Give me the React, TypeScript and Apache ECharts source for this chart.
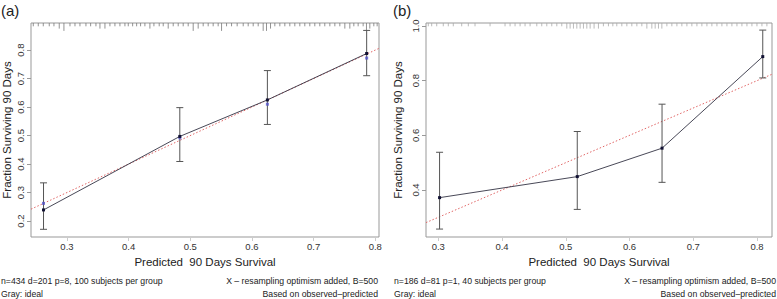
import React, { useEffect, useRef } from "react";
import * as echarts from "echarts";

const FONT = "'Liberation Sans', Arial, Helvetica, sans-serif";

// ---------- Panel (a) ----------
const aPredicted = [0.262, 0.483, 0.625, 0.786];
const aObserved = [0.239, 0.497, 0.625, 0.788];
const aCorrected = [0.262, 0.492, 0.61, 0.772];
const aLower = [0.171, 0.409, 0.539, 0.71];
const aUpper = [0.334, 0.598, 0.728, 0.869];
const aXRange = [0.2417, 0.806];
const aYRange = [0.144, 0.895];
const aXTicks = [0.3, 0.4, 0.5, 0.6, 0.7, 0.8];
const aYTicks = [0.2, 0.3, 0.4, 0.5, 0.6, 0.7, 0.8];
const aRugX = [
  0.2454, 0.2535, 0.2616, 0.2713, 0.2789, 0.2875, 0.2951, 0.3049, 0.313, 0.3211,
  0.3308, 0.3384, 0.347, 0.3535, 0.3616, 0.3697, 0.3778, 0.3859, 0.394, 0.3994,
  0.4065, 0.413, 0.4194, 0.4264, 0.4345, 0.441, 0.4496, 0.4561, 0.4642, 0.4723,
  0.4804, 0.4885, 0.4966, 0.5047, 0.5128, 0.5209, 0.529, 0.5371, 0.5452, 0.5507,
  0.5588, 0.5669, 0.576, 0.5858, 0.5939, 0.602, 0.6101, 0.6182, 0.6236, 0.6301,
  0.6371, 0.6452, 0.6533, 0.6614, 0.6695, 0.6776, 0.6857, 0.6938, 0.7019, 0.71,
  0.7181, 0.7263, 0.7344, 0.7425, 0.7506, 0.7587, 0.7652, 0.7722, 0.7803, 0.7857,
  0.7911, 0.7976, 0.803,
];
const aRugCount = [
  1, 1, 1, 1, 1, 2, 3, 1, 1, 1,
  1, 1, 1, 2, 2, 1, 1, 1, 1, 1,
  1, 1, 1, 1, 2, 1, 1, 1, 2, 1,
  1, 1, 1, 3, 2, 1, 1, 1, 1, 3,
  1, 1, 1, 1, 1, 1, 1, 3, 3, 2,
  1, 1, 1, 1, 1, 1, 1, 1, 1, 1,
  1, 1, 1, 1, 2, 2, 1, 1, 1, 3,
  2, 1, 1,
];

// ---------- Panel (b) ----------
const bPredicted = [0.302, 0.518, 0.651, 0.809];
const bObserved = [0.372, 0.449, 0.553, 0.888];
const bLower = [0.257, 0.329, 0.428, 0.81];
const bUpper = [0.538, 0.614, 0.714, 0.985];
const bXRange = [0.2807, 0.8235];
const bYRange = [0.228, 1.011];
const bXTicks = [0.3, 0.4, 0.5, 0.6, 0.7, 0.8];
const bYTicks = [0.4, 0.6, 0.8, 1.0];
const bRugX = [
  0.2843, 0.2896, 0.2975, 0.3078, 0.3157, 0.3235, 0.3367, 0.3471, 0.3576, 0.3812,
  0.4047, 0.4126, 0.4204, 0.4283, 0.4361, 0.444, 0.4545, 0.4623, 0.4702, 0.478,
  0.4859, 0.4937, 0.5016, 0.5068, 0.512, 0.5173, 0.5225, 0.5277, 0.533, 0.5382,
  0.5444, 0.5512, 0.559, 0.5669, 0.5738, 0.58, 0.5879, 0.5958, 0.6036, 0.6115,
  0.6193, 0.6272, 0.635, 0.6402, 0.6454, 0.6507, 0.6586, 0.6664, 0.6743, 0.6821,
  0.69, 0.6978, 0.7057, 0.7135, 0.7214, 0.7292, 0.7371, 0.7449, 0.7528, 0.7606,
  0.7685, 0.7763, 0.7842, 0.792, 0.7999, 0.8077, 0.8155,
];
const bRugCount = [
  1, 1, 1, 1, 1, 1, 1, 1, 1, 1,
  1, 1, 1, 1, 1, 1, 1, 1, 1, 1,
  1, 1, 2, 2, 2, 2, 2, 2, 2, 2,
  2, 2, 1, 1, 1, 1, 1, 1, 1, 1,
  1, 2, 2, 2, 2, 2, 1, 1, 1, 1,
  1, 1, 1, 1, 1, 1, 1, 1, 1, 1,
  1, 1, 1, 1, 1, 1, 1,
];

const xTitle = "Predicted  90 Days Survival";
const yTitle = "Fraction Surviving 90 Days";
const aNotes = ["n=434 d=201 p=8, 100 subjects per group", "Gray: ideal"];
const bNotes = ["n=186 d=81 p=1, 40 subjects per group", "Gray: ideal"];
const rightNotes = ["X \u2013 resampling optimism added, B=500", "Based on observed\u2013predicted"];

const zip2 = (a: number[], b: number[]) => a.map((v, i) => [v, b[i]]);
const zip3 = (a: number[], b: number[], c: number[]) => a.map((v, i) => [v, b[i], c[i]]);

export default function App() {
  const ref = useRef<HTMLDivElement>(null);

  useEffect(() => {
    const chart = echarts.init(ref.current!, null, { renderer: "svg" });

    const errRender = (params: any, api: any) => {
      const x = api.value(0);
      const p1 = api.coord([x, api.value(1)]);
      const p2 = api.coord([x, api.value(2)]);
      const w = 3.5;
      const style = { stroke: "#555", lineWidth: 1, fill: "none" };
      return {
        type: "group",
        children: [
          { type: "line", shape: { x1: p1[0], y1: p1[1], x2: p2[0], y2: p2[1] }, style },
          { type: "line", shape: { x1: p1[0] - w, y1: p1[1], x2: p1[0] + w, y2: p1[1] }, style },
          { type: "line", shape: { x1: p2[0] - w, y1: p2[1], x2: p2[0] + w, y2: p2[1] }, style },
        ],
      };
    };

    const rugRender = (color: string) => (params: any, api: any) => {
      const cs = params.coordSys;
      const p = api.coord([api.value(0), 0.5]);
      const top = cs.y;
      return {
        type: "line",
        shape: { x1: p[0], y1: top, x2: p[0], y2: top + 1 + api.value(1) * 2.3 },
        style: { stroke: color, lineWidth: 0.8 },
      };
    };

    const fmt = (v: number) => v.toFixed(1);

    const xAxisCfg = (gi: number, range: number[], ticks: number[]) => ({
      type: "value",
      gridIndex: gi,
      min: range[0],
      max: range[1],
      axisLine: { show: false },
      splitLine: { show: false },
      axisTick: { show: true, customValues: ticks, length: 4, lineStyle: { color: "#ccc" } },
      axisLabel: { customValues: ticks, formatter: fmt, fontSize: 9.5, color: "#333", margin: 4, fontFamily: FONT },
      name: xTitle,
      nameLocation: "middle",
      nameGap: 17,
      nameTextStyle: { fontSize: 11.5, color: "#222", fontFamily: FONT },
    });
    const yAxisCfg = (gi: number, range: number[], ticks: number[], gap: number) => ({
      type: "value",
      gridIndex: gi,
      min: range[0],
      max: range[1],
      axisLine: { show: false },
      splitLine: { show: false },
      axisTick: { show: true, customValues: ticks, length: 4, lineStyle: { color: "#999" } },
      axisLabel: { customValues: ticks, formatter: fmt, rotate: 90, fontSize: 9.5, color: "#333", margin: 6, fontFamily: FONT },
      name: yTitle,
      nameLocation: "middle",
      nameGap: gap,
      nameTextStyle: { fontSize: 11.5, color: "#222", fontFamily: FONT },
    });

    const panelSeries = (
      gi: number,
      pred: number[],
      obs: number[],
      lo: number[],
      hi: number[],
      xr: number[],
      rugX: number[],
      rugC: number[],
      rugColor: string
    ) => [
      {
        type: "custom",
        xAxisIndex: gi,
        yAxisIndex: gi,
        renderItem: rugRender(rugColor),
        data: zip2(rugX, rugC),
        silent: true,
        clip: false,
      },
      {
        type: "line",
        xAxisIndex: gi,
        yAxisIndex: gi,
        data: [[xr[0], xr[0]], [xr[1], xr[1]]],
        showSymbol: false,
        symbol: "none",
        lineStyle: { color: "#e06666", width: 1, type: [1.5, 2] },
        silent: true,
        clip: true,
        z: 1,
      },
      {
        type: "custom",
        xAxisIndex: gi,
        yAxisIndex: gi,
        renderItem: errRender,
        data: zip3(pred, lo, hi),
        silent: true,
        z: 2,
      },
      {
        type: "line",
        xAxisIndex: gi,
        yAxisIndex: gi,
        data: zip2(pred, obs),
        symbol: "rect",
        symbolSize: 3,
        itemStyle: { color: "#111133" },
        lineStyle: { color: "#333344", width: 0.9 },
        silent: true,
        z: 4,
      },
    ];

    const noteText = (x: number, y: number, text: string, align: string) => ({
      type: "text",
      x,
      y,
      style: {
        text,
        fill: "#222",
        fontSize: 8.7,
        fontFamily: FONT,
        textAlign: align,
        textVerticalAlign: "middle",
      },
    });

    chart.setOption({
      animation: false,
      grid: [
        { left: 31, top: 23, width: 348, height: 214, show: true, borderColor: "#999", borderWidth: 1, backgroundColor: "transparent" },
        { left: 426, top: 23, width: 346, height: 214, show: true, borderColor: "#999", borderWidth: 1, backgroundColor: "transparent" },
      ],
      xAxis: [xAxisCfg(0, aXRange, aXTicks), xAxisCfg(1, bXRange, bXTicks)],
      yAxis: [yAxisCfg(0, aYRange, aYTicks, 18), yAxisCfg(1, bYRange, bYTicks, 22)],
      series: [
        ...panelSeries(0, aPredicted, aObserved, aLower, aUpper, aXRange, aRugX, aRugCount, "#777"),
        {
          type: "scatter",
          xAxisIndex: 0,
          yAxisIndex: 0,
          data: zip2(aPredicted, aCorrected),
          symbol: "rect",
          symbolSize: 3,
          itemStyle: { color: "#5555cc" },
          silent: true,
          z: 3,
        },
        ...panelSeries(1, bPredicted, bObserved, bLower, bUpper, bXRange, bRugX, bRugCount, "#aaa"),
      ],
      graphic: [
        { type: "text", x: 1, y: 10, style: { text: "(a)", fill: "#222", fontSize: 15, fontFamily: FONT, textVerticalAlign: "middle" } },
        { type: "text", x: 393, y: 10, style: { text: "(b)", fill: "#222", fontSize: 15, fontFamily: FONT, textVerticalAlign: "middle" } },
        noteText(1, 281, aNotes[0], "left"),
        noteText(1, 294, aNotes[1], "left"),
        noteText(378, 281, rightNotes[0], "right"),
        noteText(378, 294, rightNotes[1], "right"),
        noteText(394, 281, bNotes[0], "left"),
        noteText(394, 294, bNotes[1], "left"),
        noteText(776, 281, rightNotes[0], "right"),
        noteText(776, 294, rightNotes[1], "right"),
      ],
    });

    return () => chart.dispose();
  }, []);

  return (
    <div
      ref={ref}
      style={{ position: "fixed", left: 0, top: 0, width: 777, height: 299, background: "#fff" }}
    />
  );
}
